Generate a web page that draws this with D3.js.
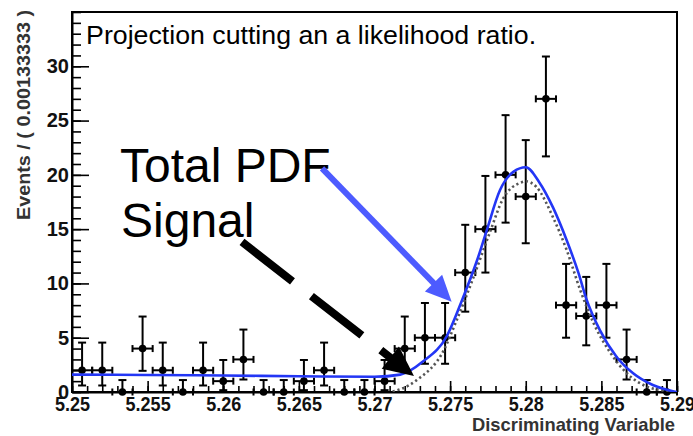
<!DOCTYPE html>
<html>
<head>
<meta charset="utf-8">
<script src="https://cdn.jsdelivr.net/npm/d3@7"></script>
<style>
  html, body { margin: 0; padding: 0; background: #fff; }
  svg { display: block; }
</style>
</head>
<body>
<div id="chart"></div>
<script>
// ---------------- data ----------------
const xTickValues = [5.25, 5.255, 5.26, 5.265, 5.27, 5.275, 5.28, 5.285, 5.29];
const xTickLabels = ["5.25", "5.255", "5.26", "5.265", "5.27", "5.275", "5.28", "5.285", "5.29"];
const yTickValues = [0, 5, 10, 15, 20, 25, 30];
const yTickLabels = ["0", "5", "10", "15", "20", "25", "30"];

const binWidth = 0.00133333;
const counts = [2, 2, 0, 4, 2, 0, 2, 1, 3, 0, 0, 1, 2, 0, 0, 1, 4, 5, 5, 11, 15, 20, 18, 27, 8, 7, 8, 3, 0, 0];
const errLow = [0.6, 0.6, 0, 1.95, 0.6, 0, 0.6, 0.17, 1.15, 0, 0, 0.17, 0.6, 0, 0, 0.17, 1.95, 2.6, 2.6, 7.4, 11.0, 15.6, 13.7, 21.7, 5.0, 4.3, 5.0, 1.15, 0, 0];
const errHigh = [4.55, 4.55, 1.1, 6.95, 4.55, 1.1, 4.55, 2.95, 5.75, 1.1, 1.1, 2.95, 4.55, 1.1, 1.1, 2.95, 6.95, 8.2, 8.2, 15.4, 19.9, 25.5, 23.2, 30.9, 11.8, 10.6, 11.8, 5.75, 1.1, 1.1];

// Total PDF curve (solid blue)
const totalX = [5.25, 5.255, 5.26, 5.265, 5.27, 5.2717, 5.2732, 5.2748, 5.2758, 5.2768, 5.2774, 5.2783, 5.2792, 5.28, 5.2809, 5.2818, 5.2827, 5.2835, 5.284, 5.2849, 5.286, 5.2871, 5.2884, 5.2898, 5.29];
const totalY = [1.6, 1.57, 1.52, 1.45, 1.4, 1.6, 2.8, 5.2, 8.5, 12.2, 14.8, 18.6, 20.3, 20.7, 19.3, 17.0, 14.0, 10.9, 8.6, 5.7, 3.25, 1.72, 0.64, 0.05, 0];

// Signal curve (dotted)
const signalX = [5.2712, 5.2718, 5.2728, 5.2746, 5.2754, 5.2765, 5.2776, 5.2785, 5.2797, 5.28, 5.2807, 5.2818, 5.2827, 5.2836, 5.2845, 5.2856, 5.2867, 5.288, 5.2893, 5.29];
const signalY = [0.05, 0.3, 1.1, 3.9, 6.5, 10.4, 14.6, 17.8, 19.3, 19.4, 18.9, 16.1, 13.1, 9.4, 6.3, 3.6, 1.7, 0.5, 0.1, 0];

const titleText = "Projection cutting an a likelihood ratio.";
const xAxisTitle = "Discriminating Variable";
const yAxisTitle = "Events / ( 0.00133333 )";
const legendTotal = "Total PDF";
const legendSignal = "Signal";

// ---------------- layout ----------------
const W = 693, H = 436;
const plot = { left: 72, right: 677, top: 12, bottom: 392 };

const x = d3.scaleLinear().domain([5.25, 5.29]).range([plot.left, plot.right]);
const y = d3.scaleLinear().domain([0, 35]).range([plot.bottom, plot.top]);

const svg = d3.select("#chart").append("svg")
  .attr("width", W).attr("height", H)
  .style("font-family", "'Liberation Sans', Arial, Helvetica, sans-serif");

svg.append("defs").append("clipPath").attr("id", "clip")
  .append("rect")
  .attr("x", plot.left).attr("y", plot.top)
  .attr("width", plot.right - plot.left).attr("height", plot.bottom - plot.top);

// ---------------- axes ----------------
const xMinor = d3.range(0, 41).map(i => 5.25 + i * 0.001);
const yMinor = d3.range(0, 36);

svg.append("g")
  .attr("transform", `translate(0,${plot.bottom})`)
  .call(d3.axisBottom(x).tickValues(xMinor).tickFormat("").tickSizeInner(-6).tickSizeOuter(0))
  .call(g => g.select(".domain").remove())
  .call(g => g.selectAll("line").attr("stroke", "#000").attr("stroke-width", 1.6));

const xAxis = svg.append("g")
  .attr("transform", `translate(0,${plot.bottom})`)
  .call(d3.axisBottom(x).tickValues(xTickValues)
    .tickFormat((d, i) => xTickLabels[i]).tickSizeInner(-11).tickSizeOuter(0).tickPadding(5));
xAxis.select(".domain").attr("stroke", "#000").attr("stroke-width", 2);
xAxis.selectAll("line").attr("stroke", "#000").attr("stroke-width", 1.6);
xAxis.selectAll("text")
  .attr("fill", "#111").style("font-size", "20px").style("font-weight", "bold")
  .attr("transform", "scale(0.9,1)");

svg.append("g")
  .attr("transform", `translate(${plot.left},0)`)
  .call(d3.axisLeft(y).tickValues(yMinor).tickFormat("").tickSizeInner(-9).tickSizeOuter(0))
  .call(g => g.select(".domain").remove())
  .call(g => g.selectAll("line").attr("stroke", "#000").attr("stroke-width", 1.6));

const yAxis = svg.append("g")
  .attr("transform", `translate(${plot.left},0)`)
  .call(d3.axisLeft(y).tickValues(yTickValues)
    .tickFormat((d, i) => yTickLabels[i]).tickSizeInner(-17).tickSizeOuter(0).tickPadding(3));
yAxis.select(".domain").attr("stroke", "#000").attr("stroke-width", 2);
yAxis.selectAll("line").attr("stroke", "#000").attr("stroke-width", 1.6);
yAxis.selectAll("text")
  .attr("fill", "#111").style("font-size", "20px").style("font-weight", "bold");

// frame
svg.append("rect")
  .attr("x", x(5.25)).attr("y", y(35))
  .attr("width", x(5.29) - x(5.25)).attr("height", y(0) - y(35))
  .attr("fill", "none").attr("stroke", "#000").attr("stroke-width", 2);

// axis titles
svg.append("text")
  .attr("x", plot.right - 2).attr("y", 431)
  .attr("text-anchor", "end")
  .attr("fill", "#333").style("font-size", "19px").style("font-weight", "bold")
  .attr("textLength", 203).attr("lengthAdjust", "spacingAndGlyphs")
  .text(xAxisTitle);

svg.append("text")
  .attr("transform", "translate(30,115) rotate(-90)")
  .attr("text-anchor", "middle")
  .attr("fill", "#333").style("font-size", "19px").style("font-weight", "bold")
  .attr("textLength", 210).attr("lengthAdjust", "spacingAndGlyphs")
  .text(yAxisTitle);

// ---------------- data points ----------------
const pts = counts.map((c, i) => ({
  xc: 5.25 + (i + 0.5) * binWidth,
  x0: 5.25 + i * binWidth,
  x1: 5.25 + (i + 1) * binWidth,
  v: c, lo: errLow[i], hi: errHigh[i]
}));

const dataG = svg.append("g").attr("stroke", "#000").attr("stroke-width", 2);
const capV = 4, capH = 3.5;
pts.forEach(p => {
  const g = dataG.append("g");
  g.append("line").attr("x1", x(p.xc)).attr("x2", x(p.xc)).attr("y1", y(p.lo)).attr("y2", y(p.hi));
  g.append("line").attr("x1", x(p.xc) - capV).attr("x2", x(p.xc) + capV).attr("y1", y(p.hi)).attr("y2", y(p.hi));
  if (p.lo > 0) g.append("line").attr("x1", x(p.xc) - capV).attr("x2", x(p.xc) + capV).attr("y1", y(p.lo)).attr("y2", y(p.lo));
  g.append("line").attr("x1", x(p.x0)).attr("x2", x(p.x1)).attr("y1", y(p.v)).attr("y2", y(p.v));
  g.append("line").attr("x1", x(p.x0)).attr("x2", x(p.x0)).attr("y1", y(p.v) - capH).attr("y2", y(p.v) + capH);
  g.append("line").attr("x1", x(p.x1)).attr("x2", x(p.x1)).attr("y1", y(p.v) - capH).attr("y2", y(p.v) + capH);
  g.append("circle").attr("cx", x(p.xc)).attr("cy", y(p.v)).attr("r", 3.8).attr("fill", "#000").attr("stroke", "none");
});

// ---------------- curves ----------------
const line = d3.line().x(d => x(d[0])).y(d => y(d[1])).curve(d3.curveMonotoneX);
const curves = svg.append("g").attr("clip-path", "url(#clip)");

curves.append("path")
  .datum(signalX.map((v, i) => [v, signalY[i]]))
  .attr("d", line)
  .attr("fill", "none").attr("stroke", "#555").attr("stroke-width", 2.6)
  .attr("stroke-dasharray", "2.2,2.8");

curves.append("path")
  .datum(totalX.map((v, i) => [v, totalY[i]]))
  .attr("d", line)
  .attr("fill", "none").attr("stroke", "#2336f5").attr("stroke-width", 2.6);

// ---------------- annotations ----------------
svg.append("text")
  .attr("x", x(5.25093)).attr("y", y(32.05))
  .attr("fill", "#000").style("font-size", "26px")
  .attr("textLength", 450).attr("lengthAdjust", "spacingAndGlyphs")
  .text(titleText);

svg.append("text")
  .attr("x", x(5.25317)).attr("y", y(19.34))
  .attr("fill", "#000").style("font-size", "48px")
  .text(legendTotal);

svg.append("text")
  .attr("x", x(5.25324)).attr("y", y(14.28))
  .attr("fill", "#000").style("font-size", "48px")
  .text(legendSignal);

function arrow(from, to, color, width, headLen, headHalf, dash) {
  const x0 = x(from[0]), y0 = y(from[1]), x1 = x(to[0]), y1 = y(to[1]);
  const dx = x1 - x0, dy = y1 - y0, L = Math.hypot(dx, dy);
  const ux = dx / L, uy = dy / L;
  const bx = x1 - ux * headLen, by = y1 - uy * headLen;
  svg.append("line")
    .attr("x1", x0).attr("y1", y0).attr("x2", bx + ux * 2).attr("y2", by + uy * 2)
    .attr("stroke", color).attr("stroke-width", width)
    .attr("stroke-dasharray", dash || null);
  svg.append("path")
    .attr("d", `M${x1},${y1}L${bx - uy * headHalf},${by + ux * headHalf}L${bx + uy * headHalf},${by - ux * headHalf}Z`)
    .attr("fill", color);
}
arrow([5.26653, 20.6], [5.2751, 8.32], "#4d5bff", 6, 26, 12);
arrow([5.26124, 13.82], [5.27261, 1.47], "#000", 8, 30, 14, "64,24");
</script>
</body>
</html>
